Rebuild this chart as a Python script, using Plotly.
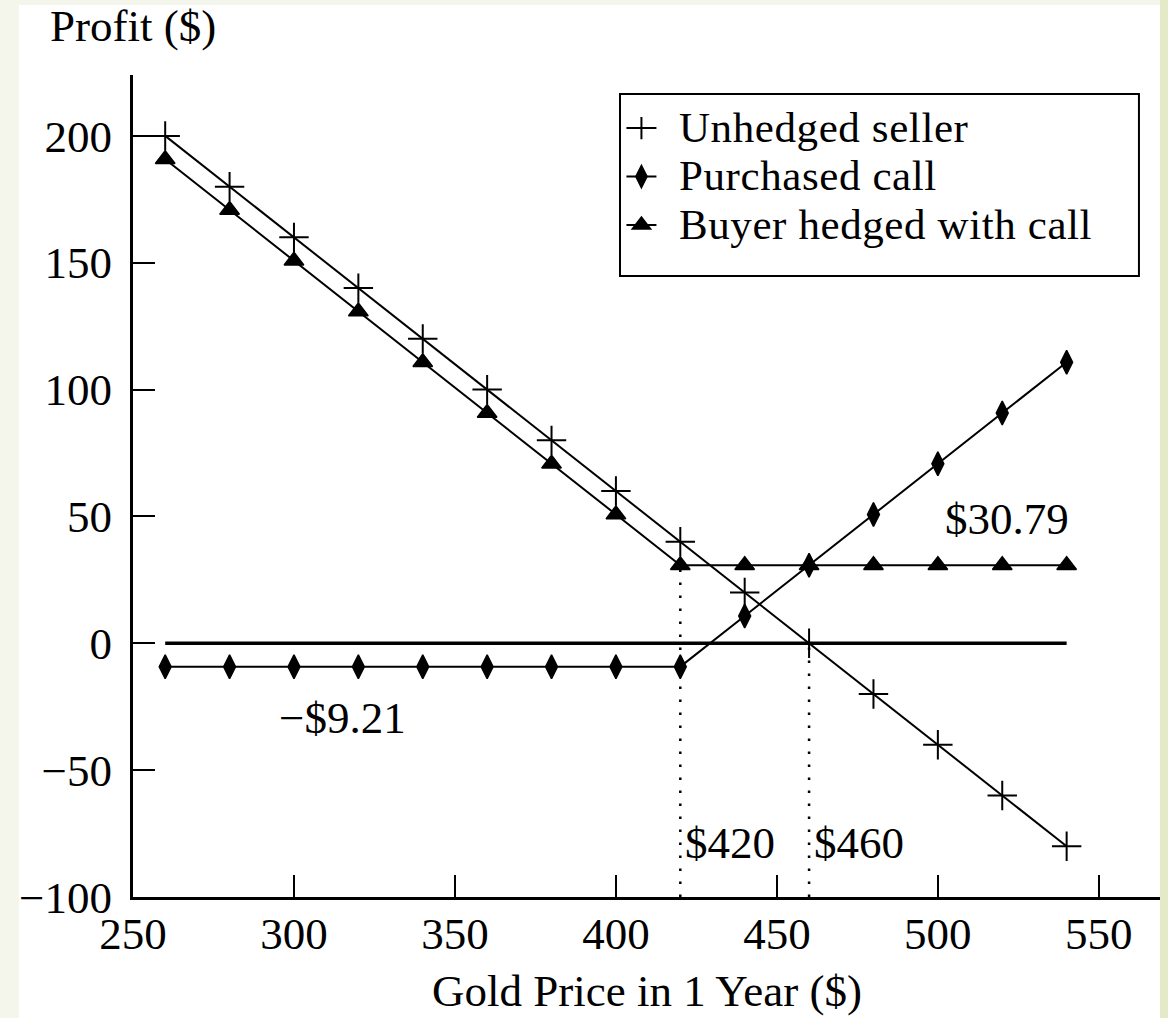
import plotly.graph_objects as go

# Gold price outcomes in one year ($)
gold_price = [260, 280, 300, 320, 340, 360, 380, 400, 420, 440, 460, 480, 500, 520, 540]

# Profit ($) for each position
unhedged_seller = [200, 180, 160, 140, 120, 100, 80, 60, 40, 20, 0, -20, -40, -60, -80]
purchased_call = [-9.21, -9.21, -9.21, -9.21, -9.21, -9.21, -9.21, -9.21, -9.21,
                  10.79, 30.79, 50.79, 70.79, 90.79, 110.79]
buyer_hedged = [190.79, 170.79, 150.79, 130.79, 110.79, 90.79, 70.79, 50.79, 30.79,
                30.79, 30.79, 30.79, 30.79, 30.79, 30.79]

strike = 420
breakeven = 460
call_cost = -9.21
hedged_cap = 30.79

x_ticks = [250, 300, 350, 400, 450, 500, 550]
y_ticks = [-100, -50, 0, 50, 100, 150, 200]

FONT = "Liberation Serif"
FS = 45
INK = "black"


def legend_label(text):
    # slightly larger glyphs than the legend's base size keep the entries compact
    return "\u00a0\u00a0<span style='font-size:43px;letter-spacing:0.6px'>" + text + "</span>"


fig = go.Figure()

# Zero-profit reference line across the price range
fig.add_trace(go.Scatter(
    x=[gold_price[0], gold_price[-1]], y=[0, 0], mode="lines",
    line=dict(color=INK, width=3.5), showlegend=False, hoverinfo="skip"))

fig.add_trace(go.Scatter(
    x=gold_price, y=unhedged_seller, mode="lines+markers",
    name=legend_label("Unhedged seller"),
    line=dict(color=INK, width=2),
    marker=dict(symbol="cross-thin-open", size=21, color=INK, line=dict(color=INK, width=2))))

fig.add_trace(go.Scatter(
    x=gold_price, y=purchased_call, mode="lines+markers",
    name=legend_label("Purchased call"),
    line=dict(color=INK, width=2),
    marker=dict(symbol="diamond-tall", size=17, color=INK, line=dict(color=INK, width=1.5))))

fig.add_trace(go.Scatter(
    x=gold_price, y=buyer_hedged, mode="lines+markers",
    name=legend_label("Buyer hedged with call"),
    line=dict(color=INK, width=2),
    marker=dict(symbol="triangle-up", size=17, color=INK, line=dict(color=INK, width=1.5))))

shapes = [
    # white page area
    dict(type="rect", xref="paper", yref="paper", x0=-0.111, x1=1.0, y0=-0.148, y1=1.0852,
         fillcolor="white", line=dict(width=0), layer="below"),
    # greener strip on the right edge
    dict(type="rect", xref="paper", yref="paper", x0=1.0, x1=1.01, y0=-0.148, y1=1.1,
         fillcolor="#e4eac8", line=dict(width=0), layer="below"),
    # legend frame
    dict(type="rect", xref="paper", yref="paper", x0=0.4742, x1=0.9795, y0=0.7555, y1=0.9768,
         fillcolor="white", line=dict(color=INK, width=2), layer="below"),
    # dotted guides at the strike and break-even prices
    dict(type="line", xref="x", yref="y", x0=strike, x1=strike, y0=-100, y1=hedged_cap,
         line=dict(color=INK, width=2.5, dash="2.5px,10.5px"), layer="below"),
    dict(type="line", xref="x", yref="y", x0=breakeven, x1=breakeven, y0=-100, y1=0,
         line=dict(color=INK, width=2.5, dash="2.5px,10.5px"), layer="below"),
]

annotations = [
    dict(text="Profit ($)", xref="paper", yref="paper", x=-0.083, y=1.06,
         xanchor="left", yanchor="middle", showarrow=False, font=dict(size=FS)),
    dict(text="Gold Price in 1 Year ($)", xref="paper", yref="paper", x=0.5, y=-0.114,
         xanchor="center", yanchor="middle", showarrow=False, font=dict(size=FS)),
    dict(text="$30.79", x=521.5, y=49, showarrow=False, font=dict(size=FS)),
    dict(text="\u2212$9.21", x=315, y=-29.5, showarrow=False, font=dict(size=FS)),
    dict(text="$420", x=435.5, y=-78.7, showarrow=False, font=dict(size=FS)),
    dict(text="$460", x=475.5, y=-78.7, showarrow=False, font=dict(size=FS)),
]

fig.update_layout(
    width=1168, height=1018,
    margin=dict(l=133, r=8, t=75, b=121),
    paper_bgcolor="#f4f6ec",
    plot_bgcolor="rgba(0,0,0,0)",
    font=dict(family=FONT, size=FS, color=INK),
    shapes=shapes,
    annotations=annotations,
    legend=dict(
        x=0.4756, y=0.971, xanchor="left", yanchor="top",
        bgcolor="rgba(0,0,0,0)", borderwidth=0,
        font=dict(family=FONT, size=35, color=INK),
        itemwidth=30, tracegroupgap=0,
    ),
    xaxis=dict(
        range=[250, 569], tickvals=x_ticks, ticktext=[str(v) for v in x_ticks],
        showgrid=False, zeroline=False, showline=True, linecolor=INK, linewidth=3,
        ticks="inside", ticklen=22, tickwidth=2, tickcolor=INK, ticklabelstandoff=-5,
    ),
    yaxis=dict(
        range=[-100, 224], tickvals=y_ticks,
        ticktext=[("\u2212" + str(-v)) if v < 0 else str(v) for v in y_ticks],
        showgrid=False, zeroline=False, showline=True, linecolor=INK, linewidth=3,
        ticks="inside", ticklen=22, tickwidth=2, tickcolor=INK, ticklabelstandoff=9,
    ),
)

fig.write_html("out.html")
